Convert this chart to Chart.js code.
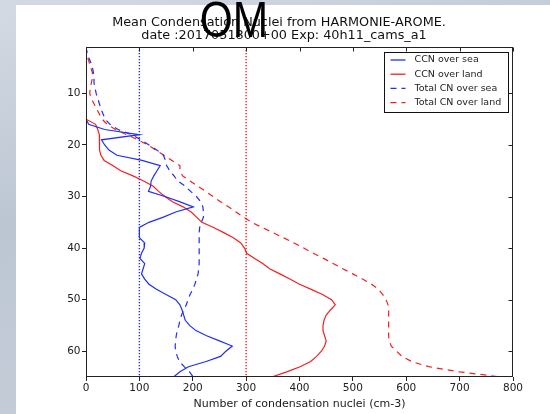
<!DOCTYPE html>
<html>
<head>
<meta charset="utf-8">
<script src="https://cdn.jsdelivr.net/npm/chart.js@4.4.1/dist/chart.umd.min.js"></script>
<style>
    html, body { margin: 0; padding: 0; }
    body {
        width: 550px; height: 414px; overflow: hidden; position: relative;
        background: linear-gradient(165deg, #d4dae3 0%, #bcc6d3 40%, #c3cbd7 70%, #ccd3de 100%);
    }
    #panel { position: absolute; left: 16px; top: 5px; right: 0; bottom: 0; background: #fff; }
    #wrap { position: absolute; left: 0; top: 0; }
</style>
</head>
<body>
<div id="panel"></div>
<div id="wrap"><canvas id="myChart" width="550" height="414"></canvas></div>
<script>
// model levels (1 = top of the atmosphere, 65 = lowest level)
const levels = [1, 2, 3, 4, 5, 6, 7, 8, 9, 10, 11, 12, 13, 14, 15, 16, 17, 18, 19, 20,
    21, 22, 23, 24, 25, 26, 27, 28, 29, 30, 31, 32, 33, 34, 35, 36, 37, 38, 39, 40,
    41, 42, 43, 44, 45, 46, 47, 48, 49, 50, 51, 52, 53, 54, 55, 56, 57, 58, 59, 60,
    61, 62, 63, 64, 65];

// mean number concentrations per level (cm-3)
const ccnSea = [0, 0, 0, 0, 0, 0, 0, 0, 0, 0, 0, 0, 0, 0, 0, 5, 35, 100, 29, 35,
    43, 58, 105, 139, 133, 127, 122, 121, 117, 148, 175, 201, 168, 145, 118, 100, 100, 100, 110, 109,
    104, 101, 110, 107, 104, 110, 118, 132, 150, 168, 176, 180, 183, 186, 194, 206, 226, 250, 274, 262,
    252, 225, 192, 176, 164];
const ccnLand = [0, 0, 0, 0, 0, 0, 0, 0, 0, 0, 0, 0, 0, 0, 1, 18, 22, 25, 26, 25,
    25, 28, 34, 50, 65, 88, 108, 126, 136, 148, 162, 182, 197, 207, 217, 239, 258, 276, 290, 297,
    301, 316, 331, 344, 363, 382, 400, 422, 443, 460, 467, 458, 450, 446, 444, 444, 447, 450, 447, 441,
    432, 421, 401, 376, 348];
const totalSea = [0, 2, 5, 9, 12, 14, 15, 15, 17, 19, 22, 25, 28, 32, 36, 45, 60, 85, 103, 118,
    133, 145, 149, 151, 157, 165, 172, 186, 196, 207, 215, 219, 220, 220, 216, 213, 212, 212, 212, 212,
    212, 212, 212, 211, 210, 207, 204, 200, 195, 191, 188, 183, 179, 176, 174, 171, 169, 168, 167, 168,
    171, 175, 184, 194, 201];
const totalLand = [0, 1, 3, 6, 9, 12, 12, 10, 8, 7, 10, 15, 20, 25, 30, 40, 55, 76, 97, 116,
    131, 146, 161, 176, 176, 181, 195, 210, 224, 238, 252, 267, 281, 295, 310, 330, 350, 370, 390, 408,
    426, 445, 463, 481, 500, 518, 535, 548, 556, 562, 566, 567, 567, 567, 567, 567, 567, 568, 572, 582,
    592, 610, 642, 700, 778];

// reference concentrations marked by dotted lines
const seaRef = 100;
const landRef = 300;

const xTicks = [0, 100, 200, 300, 400, 500, 600, 700, 800];
const yTicks = [10, 20, 30, 40, 50, 60];

const titleLines = ["Mean Condensation Nuclei from HARMONIE-AROME.",
    "date :2017051800+00 Exp: 40h11_cams_a1"];

const BLUE = '#1f2ff0';
const RED = '#f02020';
const FONT = "'DejaVu Sans', sans-serif";

function profile(values) {
    return levels.map((lev, i) => ({ x: values[i], y: lev }));
}

function refLine(v) {
    return [{ x: v, y: levels[0] }, { x: v, y: levels[levels.length - 1] }];
}

// frame, inner ticks, legend and titles (matplotlib look)
const decorations = {
    id: 'decorations',
    afterDraw(chart) {
        const ctx = chart.ctx;
        const a = chart.chartArea;
        const xs = chart.scales.x, ys = chart.scales.y;
        const l = Math.round(a.left) + 0.5, t = Math.round(a.top) + 0.5;
        const r = Math.round(a.right) - 0.5, b = Math.round(a.bottom) - 0.5;
        ctx.save();

        ctx.strokeStyle = '#222';
        ctx.lineWidth = 1;
        ctx.strokeRect(l, t, r - l, b - t);

        ctx.beginPath();
        xTicks.forEach(v => {
            const px = Math.round(xs.getPixelForValue(v)) + 0.5;
            ctx.moveTo(px, t);
            ctx.lineTo(px, t + 4);
        });
        yTicks.forEach(v => {
            const py = Math.round(ys.getPixelForValue(v)) + 0.5;
            ctx.moveTo(r, py);
            ctx.lineTo(r - 4, py);
        });
        ctx.stroke();

        // legend box
        const items = chart.data.datasets.filter(d => d.inLegend);
        const bw = 124, bh = 60;
        const bx = Math.round(a.right - 5 - bw) + 0.5, by = Math.round(a.top + 5) + 0.5;
        ctx.fillStyle = '#fff';
        ctx.fillRect(bx, by, bw, bh);
        ctx.strokeStyle = '#111';
        ctx.strokeRect(bx, by, bw, bh);
        ctx.font = '9.5px ' + FONT;
        ctx.textBaseline = 'middle';
        items.forEach((d, i) => {
            const ry = by + 7.5 + i * 14.2;
            ctx.strokeStyle = d.borderColor;
            ctx.lineWidth = 1.3;
            ctx.setLineDash(d.borderDash || []);
            ctx.beginPath();
            ctx.moveTo(bx + 6, ry);
            ctx.lineTo(bx + 21, ry);
            ctx.stroke();
            ctx.setLineDash([]);
            ctx.fillStyle = '#222';
            ctx.fillText(d.label, bx + 30, ry);
        });

        // titles
        ctx.fillStyle = '#111';
        ctx.textAlign = 'center';
        ctx.textBaseline = 'middle';
        ctx.font = '12.8px ' + FONT;
        ctx.fillText(titleLines[0], 279, 23);
        ctx.fillText(titleLines[1], 284, 36);

        // large heading letters overlapping the title
        ctx.fillStyle = '#000';
        ctx.font = "50px 'Liberation Sans', Arial, sans-serif";
        ctx.textBaseline = 'alphabetic';
        ctx.translate(234, 37);
        ctx.scale(0.85, 1);
        ctx.fillText('OM', 0, 0);
        ctx.restore();
    }
};

const chrt = document.getElementById('myChart');
new Chart(chrt, {
    type: 'scatter',
    data: {
        datasets: [
            {
                label: 'CCN over sea',
                data: profile(ccnSea),
                borderColor: BLUE,
                borderWidth: 1.2,
                inLegend: true
            },
            {
                label: 'CCN over land',
                data: profile(ccnLand),
                borderColor: RED,
                borderWidth: 1.2,
                inLegend: true
            },
            {
                label: 'Total CN over sea',
                data: profile(totalSea),
                borderColor: BLUE,
                borderWidth: 1.2,
                borderDash: [6, 5],
                inLegend: true
            },
            {
                label: 'Total CN over land',
                data: profile(totalLand),
                borderColor: RED,
                borderWidth: 1.2,
                borderDash: [6, 5],
                inLegend: true
            },
            {
                label: 'sea reference',
                data: refLine(seaRef),
                borderColor: BLUE,
                borderWidth: 1.4,
                borderDash: [1.2, 1.8]
            },
            {
                label: 'land reference',
                data: refLine(landRef),
                borderColor: RED,
                borderWidth: 1.4,
                borderDash: [1.2, 1.8]
            }
        ]
    },
    options: {
        responsive: false,
        animation: false,
        showLine: true,
        layout: { padding: { top: 47, right: 37, left: 0, bottom: 0 } },
        elements: {
            point: { radius: 0, hoverRadius: 0 },
            line: { tension: 0, fill: false }
        },
        plugins: {
            legend: { display: false },
            tooltip: { enabled: false }
        },
        scales: {
            x: {
                type: 'linear',
                min: 0,
                max: 800,
                z: 1,
                afterFit: s => { s.height = 37; },
                afterBuildTicks: s => { s.ticks = xTicks.map(v => ({ value: v })); },
                grid: { drawOnChartArea: false, tickLength: 4, color: '#222' },
                border: { display: false },
                ticks: { color: '#222', font: { family: FONT, size: 10.5 }, padding: 1, maxRotation: 0 },
                title: {
                    display: true,
                    text: 'Number of condensation nuclei (cm-3)',
                    color: '#1a1a1a',
                    font: { family: FONT, size: 11 },
                    padding: { top: 0, bottom: 3 }
                }
            },
            y: {
                type: 'linear',
                reverse: true,
                min: 1,
                max: 65,
                z: 1,
                afterFit: s => { s.width = 86; },
                afterBuildTicks: s => { s.ticks = yTicks.map(v => ({ value: v })); },
                grid: { drawOnChartArea: false, tickLength: 4, color: '#222' },
                border: { display: false },
                ticks: { color: '#222', font: { family: FONT, size: 10.5 }, padding: 1.5 }
            }
        }
    },
    plugins: [decorations]
});
</script>
</body>
</html>
